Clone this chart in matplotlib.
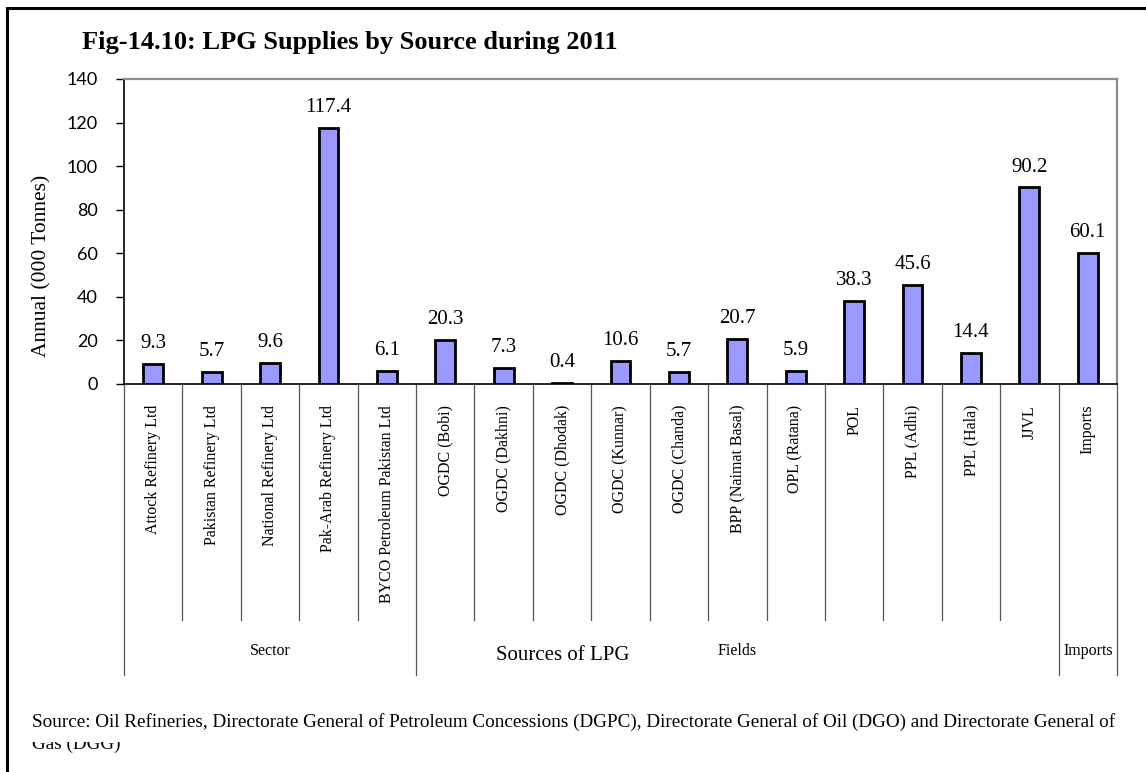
import matplotlib
matplotlib.use("Agg")
import matplotlib.pyplot as plt
from matplotlib.patches import Rectangle
import matplotlib.transforms as mtransforms

categories = ["Attock Refinery Ltd", "Pakistan Refinery Ltd", "National Refinery Ltd",
              "Pak-Arab Refinery Ltd", "BYCO Petroleum Pakistan Ltd", "OGDC (Bobi)",
              "OGDC (Dakhni)", "OGDC (Dhodak)", "OGDC (Kunnar)", "OGDC (Chanda)",
              "BPP (Naimat Basal)", "OPL (Ratana)", "POL", "PPL (Adhi)", "PPL (Hala)",
              "JJVL", "Imports"]
values = [9.3, 5.7, 9.6, 117.4, 6.1, 20.3, 7.3, 0.4, 10.6, 5.7, 20.7, 5.9, 38.3,
          45.6, 14.4, 90.2, 60.1]
groups = ["Sector", "Fields", "Imports"]
group_sizes = [5, 11, 1]
yticks = [0, 20, 40, 60, 80, 100, 120, 140]

W, H = 1146, 772
fig = plt.figure(figsize=(W / 100, H / 100), dpi=100)
fig.patch.set_facecolor("white")

serif = "Liberation Serif"
sans = "Lato"

# outer frame (left and top visible, rest beyond the image)
fig.patches.append(Rectangle((7 / W, -0.05), 1.2, 1 - 7.5 / H + 0.05, transform=fig.transFigure,
                             fill=False, edgecolor="black", linewidth=2.2))

ax_l, ax_r, ax_t, ax_b = 124, 1117, 79, 384
ax_h = ax_b - ax_t
ax = fig.add_axes([ax_l / W, 1 - ax_b / H, (ax_r - ax_l) / W, ax_h / H])
x = list(range(len(categories)))
ax.bar(x, values, width=0.34, color="#9999FF", edgecolor="black", linewidth=2, zorder=3)
ax.set_xlim(-0.5, len(categories) - 0.5)
ax.set_ylim(0, 140)
ax.set_yticks(yticks)
ax.set_yticklabels([str(t) for t in yticks], fontfamily=sans, fontsize=13)
ax.tick_params(axis="y", length=6, width=1, pad=13)
ax.set_xticks(x)
ax.set_xticklabels(categories, rotation=90, fontfamily=serif, fontsize=11.5, va="top")
ax.tick_params(axis="x", length=0, pad=15)
for s in ["top", "right"]:
    ax.spines[s].set_color("#8c8c8c")
    ax.spines[s].set_linewidth(1.6)
for s in ["left", "bottom"]:
    ax.spines[s].set_color("black")
    ax.spines[s].set_linewidth(1.2)

for xi, v in zip(x, values):
    ax.annotate(f"{v}", (xi, v), xytext=(0, 11.5), textcoords="offset points",
                ha="center", va="baseline", fontfamily=serif, fontsize=15)

# category separator lines below axis
trans = mtransforms.blended_transform_factory(ax.transData, ax.transAxes)
inner_bottom = -(620 - ax_b) / ax_h
outer_bottom = -(675 - ax_b) / ax_h
bounds = [0]
for g in group_sizes:
    bounds.append(bounds[-1] + g)
for k in range(len(categories) + 1):
    xpos = k - 0.5
    yb = outer_bottom if k in bounds else inner_bottom
    ax.plot([xpos, xpos], [0, yb], transform=trans, color="#555555", linewidth=0.9,
            clip_on=False)

# group labels
label_y = -(651 - ax_b) / ax_h
for gi, g in enumerate(groups):
    cx = (bounds[gi] + bounds[gi + 1]) / 2 - 0.5
    ax.text(cx, label_y, g, transform=trans, ha="center", va="center",
            fontfamily=serif, fontsize=11.5)

fig.text(563 / W, 1 - 655 / H, "Sources of LPG", ha="center",
         va="center", fontfamily=serif, fontsize=15)
fig.text(42 / W, 1 - 266 / H, "Annual (000 Tonnes)", rotation=90, ha="center", va="center",
         fontfamily=serif, fontsize=15.5)
fig.text(82 / W, 1 - 43 / H, "Fig-14.10: LPG Supplies by Source during 2011", ha="left",
         va="center", fontfamily=serif, fontsize=19, fontweight="bold")
fig.text(32 / W, 1 - 727 / H,
         "Source: Oil Refineries, Directorate General of Petroleum Concessions (DGPC), "
         "Directorate General of Oil (DGO) and Directorate General of",
         ha="left", va="baseline", fontfamily=serif, fontsize=13.8)
t2 = fig.text(32 / W, 1 - 749 / H, "Gas (DGG)", ha="left", va="baseline", fontfamily=serif,
              fontsize=13.8)
clip = mtransforms.TransformedBbox(mtransforms.Bbox([[0, 0], [1, 1 - 742 / H]]),
                                   fig.transFigure)
t2.set_clip_box(clip)
t2.set_clip_on(True)

fig.savefig("out.png", dpi=100)
